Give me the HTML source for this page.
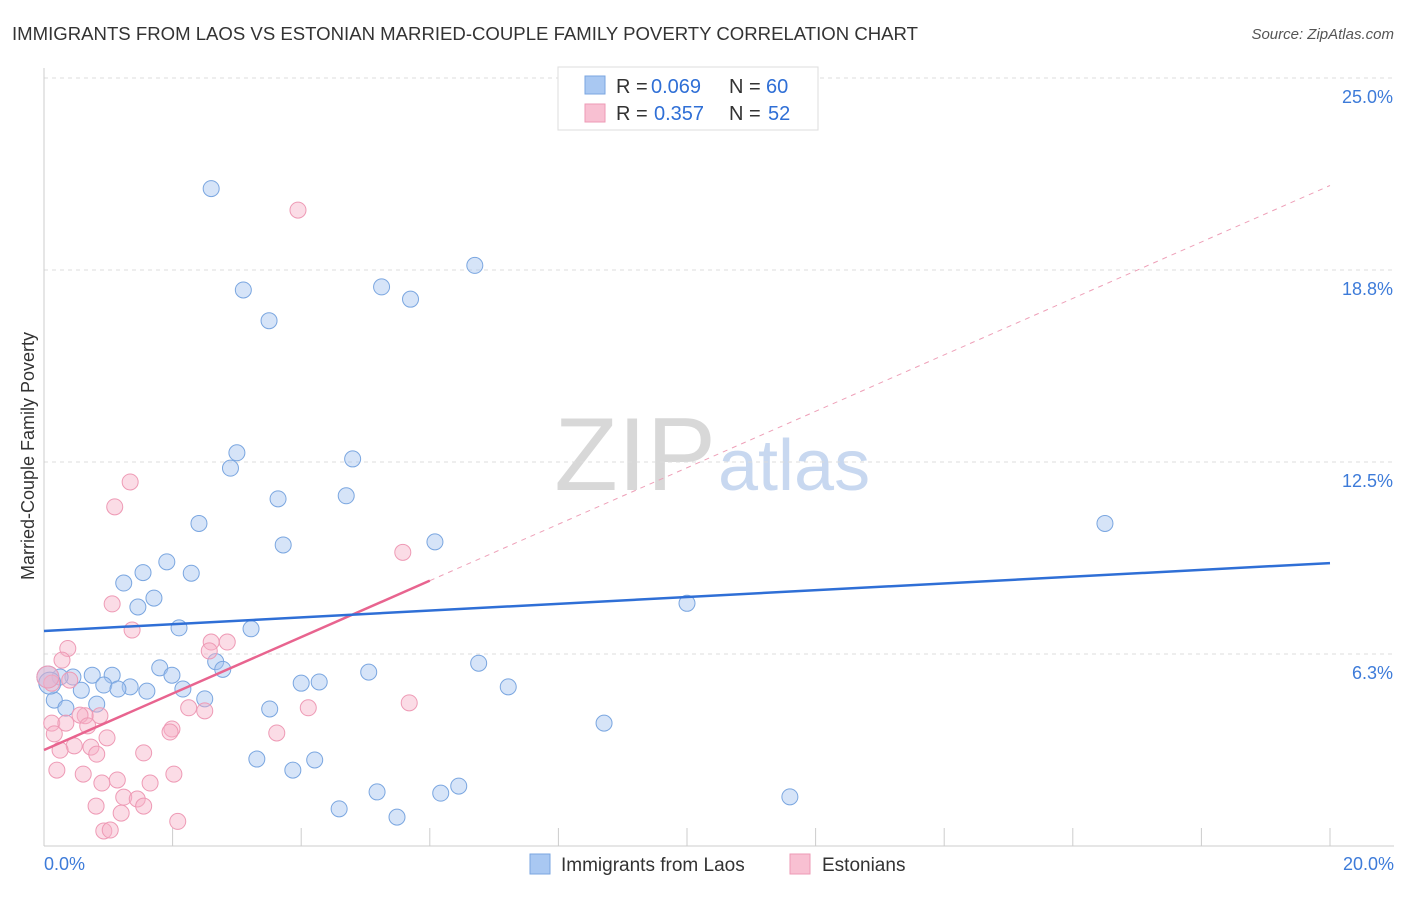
<!DOCTYPE html>
<html><head><meta charset="utf-8"><style>
body{margin:0;background:#fff;font-family:"Liberation Sans",sans-serif;}
svg text{font-family:"Liberation Sans",sans-serif;}
</style></head><body>
<svg id="c" width="1406" height="892" xmlns="http://www.w3.org/2000/svg">
<text x="12" y="40" font-size="18" fill="#333" textLength="906" lengthAdjust="spacingAndGlyphs">IMMIGRANTS FROM LAOS VS ESTONIAN MARRIED-COUPLE FAMILY POVERTY CORRELATION CHART</text>
<text x="1394" y="39" font-size="15" fill="#555" font-style="italic" text-anchor="end">Source: ZipAtlas.com</text>
<text x="716" y="490" font-size="104" fill="#d8d8d8" text-anchor="end" font-family="Liberation Serif">ZIP</text>
<text x="718" y="490" font-size="72" fill="#c8d8f0">atlas</text>
<text transform="translate(34,456) rotate(-90)" font-size="18" fill="#333" text-anchor="middle">Married-Couple Family Poverty</text>
<g id="grid"></g><g id="marks"></g>
<g>
<rect x="558" y="67" width="260" height="63" fill="#fff" stroke="#ddd"/>
<rect x="585" y="76" width="20" height="18" fill="#a9c8f2" stroke="#7aa6e0"/>
<rect x="585" y="104" width="20" height="18" fill="#f8c0d2" stroke="#ee9ab5"/>
<text x="616" y="93" font-size="20" fill="#333">R =</text>
<text x="651" y="93" font-size="20" fill="#2f6fd6">0.069</text>
<text x="729" y="93" font-size="20" fill="#333">N =</text>
<text x="766" y="93" font-size="20" fill="#2f6fd6">60</text>
<text x="616" y="120" font-size="20" fill="#333">R =</text>
<text x="654" y="120" font-size="20" fill="#2f6fd6">0.357</text>
<text x="729" y="120" font-size="20" fill="#333">N =</text>
<text x="768" y="120" font-size="20" fill="#2f6fd6">52</text>
</g>
<g>
<rect x="530" y="854" width="20" height="20" fill="#a9c8f2" stroke="#7aa6e0"/>
<text x="561" y="871" font-size="19" fill="#333">Immigrants from Laos</text>
<rect x="790" y="854" width="20" height="20" fill="#f8c0d2" stroke="#ee9ab5"/>
<text x="822" y="871" font-size="19" fill="#333">Estonians</text>
</g>
</svg>
<script>
const yTicks=[6.25,12.5,18.75,25];
const yTickLabels=["6.3%","12.5%","18.8%","25.0%"];
const xTicks=[0,2,4,6,8,10,12,14,16,18,20];
const laosX=[2.6,6.7,3.1,5.25,5.7,3.5,3.0,2.9,4.8,4.7,3.64,2.41,16.5,6.08,3.72,1.91,1.54,2.29,1.24,1.71,1.46,2.1,3.22,10.0,1.8,2.67,2.78,1.99,5.05,6.76,1.06,0.75,0.45,0.25,0.93,1.34,1.15,1.6,2.16,0.58,4.0,4.28,7.22,2.5,0.16,0.34,0.82,3.51,8.71,3.31,3.87,4.21,11.6,6.45,6.17,5.18,4.59,5.49,0.06,0.09];
const laosY=[21.4,18.9,18.1,18.2,17.8,17.1,12.8,12.3,12.6,11.4,11.3,10.5,10.5,9.9,9.8,9.25,8.9,8.88,8.56,8.07,7.78,7.1,7.07,7.9,5.8,6.0,5.75,5.56,5.66,5.95,5.56,5.56,5.5,5.5,5.24,5.18,5.11,5.04,5.11,5.07,5.3,5.34,5.18,4.79,4.75,4.49,4.62,4.46,4.0,2.83,2.47,2.8,1.6,1.95,1.72,1.76,1.21,0.94,5.5,5.3];
const estX=[3.95,1.34,1.1,5.58,1.06,1.37,0.37,2.6,2.85,2.57,0.28,0.4,0.12,4.11,5.68,2.25,2.5,0.87,0.64,0.56,0.12,0.34,0.68,1.99,1.96,0.16,0.98,3.62,0.47,0.73,0.25,0.82,1.55,0.2,0.61,2.02,1.14,0.9,1.65,1.24,1.45,1.55,0.81,1.2,2.08,0.93,1.03,0.06];
const estY=[20.7,11.85,11.04,9.56,7.88,7.03,6.43,6.64,6.64,6.35,6.05,5.4,5.3,4.5,4.66,4.5,4.4,4.24,4.24,4.26,4.0,4.0,3.91,3.81,3.71,3.65,3.52,3.68,3.26,3.22,3.12,2.99,3.03,2.47,2.34,2.34,2.15,2.05,2.05,1.59,1.53,1.3,1.3,1.07,0.8,0.49,0.52,5.5];
const laosTrend=[7.0,9.21];
const estTrend=[3.125,21.5];
const X0=44,X1=1330,Y0=846,PY=30.72;
const sx=v=>X0+(X1-X0)*v/20, sy=v=>Y0-v*PY;
const NS="http://www.w3.org/2000/svg";
function mk(t,a,p){const e=document.createElementNS(NS,t);for(const k in a)e.setAttribute(k,a[k]);p.appendChild(e);return e;}
const g=document.getElementById('grid'),m=document.getElementById('marks');
yTicks.forEach((v,i)=>{
 const l=mk('line',{x1:X0,x2:1394,y1:sy(v),y2:sy(v),stroke:'#ddd','stroke-dasharray':'4,4'},g);
 
 
 const t=mk('text',{x:1393,y:sy(v)+25,'font-size':18,fill:'#3d7bd9','text-anchor':'end'},g);t.textContent=yTickLabels[i];
 
 
});
mk('line',{x1:X0,x2:X0,y1:68,y2:Y0,stroke:'#ccc'},g);
mk('line',{x1:X0,x2:1394,y1:Y0,y2:Y0,stroke:'#ccc'},g);
xTicks.forEach(v=>{const l=mk('line',{x1:sx(v),x2:sx(v),y1:Y0-18,y2:Y0,stroke:'#ccc'},g);
 
 });
let t=mk('text',{x:44,y:870,'font-size':18,fill:'#3d7bd9'},g);t.textContent='0.0%';


t=mk('text',{x:1394,y:870,'font-size':18,fill:'#3d7bd9','text-anchor':'end'},g);t.textContent='20.0%';


laosX.forEach((x,i)=>{const c=mk('circle',{cx:sx(x),cy:sy(laosY[i]),r:i>=58?11:8,fill:'rgba(163,196,240,0.45)',stroke:'#7aa6e0','stroke-width':1},m);
 
 });
estX.forEach((x,i)=>{const c=mk('circle',{cx:sx(x),cy:sy(estY[i]),r:i==estX.length-1?11:8,fill:'rgba(246,178,200,0.45)',stroke:'#ee9ab5','stroke-width':1},m);
 
 });
const xe=6;const ye=estTrend[0]+(estTrend[1]-estTrend[0])*xe/20;
let l=mk('line',{x1:sx(xe),y1:sy(ye),x2:sx(20),y2:sy(estTrend[1]),stroke:'#eea0b8','stroke-dasharray':'5,5'},m);


l=mk('line',{x1:sx(0),y1:sy(estTrend[0]),x2:sx(xe),y2:sy(ye),stroke:'#e8648f','stroke-width':2.5},m);


l=mk('line',{x1:sx(0),y1:sy(laosTrend[0]),x2:sx(20),y2:sy(laosTrend[1]),stroke:'#2f6fd6','stroke-width':2.5},m);


</script>
</body></html>
